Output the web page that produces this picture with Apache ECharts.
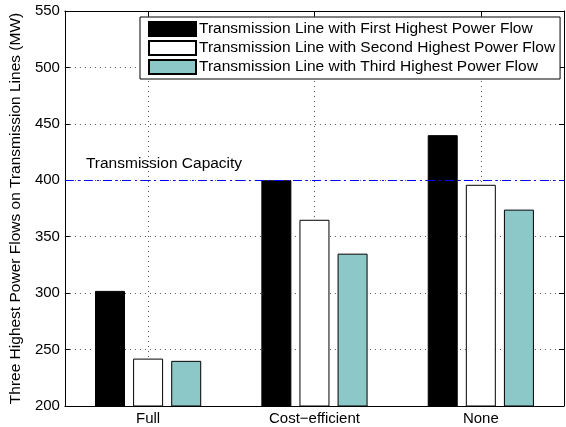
<!DOCTYPE html>
<html>
<head>
<meta charset="utf-8">
<script src="https://cdn.jsdelivr.net/npm/echarts@6/dist/echarts.min.js"></script>
<style>
  html, body { margin: 0; padding: 0; background: #fff; }
  #chart { width: 566px; height: 427px; }
</style>
</head>
<body>
<div id="chart"></div>
<script>
var categories = ['Full', 'Cost\u2212efficient', 'None']
var seriesNames = [
  'Transmission Line with First Highest Power Flow',
  'Transmission Line with Second Highest Power Flow',
  'Transmission Line with Third Highest Power Flow'
]
var firstFlow = [302, 400, 440]
var secondFlow = [242, 365, 396]
var thirdFlow = [240, 335, 374]
var capacity = 400
var capacityLabel = 'Transmission Capacity'
var yTicks = { min: 200, max: 550, step: 50 }

var fontFamily = '"Liberation Sans", Arial, Helvetica, sans-serif'
var colors = ['#000000', '#ffffff', '#8cc8c8']

var chart = echarts.init(document.getElementById('chart'))

function barSeries (name, data, color, withLine) {
  var s = {
    name: name,
    type: 'bar',
    xAxisIndex: 0,
    yAxisIndex: 0,
    data: data,
    barWidth: 30,
    barGap: '27%',
    itemStyle: { color: color, borderColor: '#000', borderWidth: 1 }
  }
  if (withLine) {
    s.markLine = {
      silent: true,
      symbol: ['none', 'none'],
      lineStyle: { color: '#0000ff', width: 1, type: [9, 4, 2, 4] },
      label: {
        show: true,
        position: 'insideStartTop',
        formatter: capacityLabel,
        color: '#000',
        fontSize: 15.5,
        fontFamily: fontFamily,
        distance: [21, 9]
      },
      data: [{ yAxis: capacity }]
    }
  }
  return s
}

var option = {
  animation: false,
  textStyle: { fontFamily: fontFamily },
  grid: { left: 62, right: 2, top: 11, bottom: 21 },
  legend: {
    orient: 'vertical',
    left: 140,
    top: 17,
    icon: 'rect',
    itemWidth: 47,
    itemHeight: 14,
    itemGap: 3,
    padding: [4, 5, 4, 8],
    borderColor: '#000',
    borderWidth: 1,
    backgroundColor: '#fff',
    textStyle: { fontSize: 15.5, color: '#000', fontFamily: fontFamily, padding: [0, 0, 0, -2] },
    data: seriesNames
  },
  xAxis: [{
    type: 'category',
    data: categories,
    position: 'bottom',
    axisLine: { lineStyle: { color: '#000', width: 1 } },
    axisTick: { show: true, inside: true, alignWithLabel: true, length: 5, lineStyle: { color: '#000' } },
    axisLabel: { color: '#000', fontSize: 15, margin: 5 },
    splitLine: { show: true, alignWithLabel: true, lineStyle: { color: '#555', type: [1, 4] } }
  }, {
    type: 'category',
    data: categories,
    position: 'top',
    axisLine: { lineStyle: { color: '#000', width: 1 } },
    axisTick: { show: true, inside: true, alignWithLabel: true, length: 5, lineStyle: { color: '#000' } },
    axisLabel: { show: false }
  }],
  yAxis: [{
    type: 'value',
    min: yTicks.min,
    max: yTicks.max,
    interval: yTicks.step,
    name: 'Three Highest Power Flows on Transmission Lines (MW)',
    nameLocation: 'middle',
    nameGap: 37,
    nameTextStyle: { fontSize: 15.5, color: '#000' },
    axisLine: { show: true, lineStyle: { color: '#000', width: 1 } },
    axisTick: { show: true, inside: true, length: 5, lineStyle: { color: '#000' } },
    axisLabel: { color: '#000', fontSize: 15, margin: 5 },
    splitLine: { show: true, lineStyle: { color: '#555', type: [1, 4] } }
  }, {
    type: 'value',
    min: yTicks.min,
    max: yTicks.max,
    interval: yTicks.step,
    position: 'right',
    axisLine: { show: true, lineStyle: { color: '#000', width: 1 } },
    axisTick: { show: true, inside: true, length: 5, lineStyle: { color: '#000' } },
    axisLabel: { show: false },
    splitLine: { show: false }
  }],
  series: [
    barSeries(seriesNames[0], firstFlow, colors[0], true),
    barSeries(seriesNames[1], secondFlow, colors[1], false),
    barSeries(seriesNames[2], thirdFlow, colors[2], false)
  ]
}

chart.setOption(option)
</script>
</body>
</html>
